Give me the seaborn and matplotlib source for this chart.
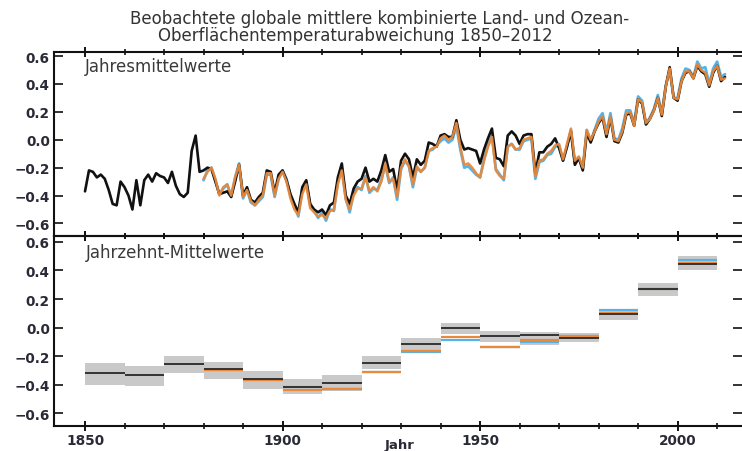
import numpy as np
import pandas as pd
import matplotlib
matplotlib.use("Agg")
import matplotlib.pyplot as plt
import seaborn as sns
from matplotlib.ticker import FuncFormatter, MultipleLocator, FixedLocator

# ---------------- data ----------------
years_black = list(range(1850, 2013))
black_annual = [
    -0.37, -0.22, -0.23, -0.27, -0.25, -0.28, -0.36, -0.46, -0.47, -0.30,   # 1850s
    -0.34, -0.40, -0.50, -0.29, -0.47, -0.29, -0.25, -0.30, -0.24, -0.26,   # 1860s
    -0.27, -0.31, -0.23, -0.33, -0.39, -0.41, -0.38, -0.08, 0.03, -0.23,    # 1870s
    -0.22, -0.20, -0.21, -0.30, -0.39, -0.38, -0.37, -0.41, -0.30, -0.18,   # 1880s
    -0.40, -0.34, -0.43, -0.45, -0.41, -0.38, -0.22, -0.23, -0.38, -0.25,   # 1890s
    -0.22, -0.29, -0.39, -0.46, -0.52, -0.34, -0.29, -0.46, -0.50, -0.52,   # 1900s
    -0.50, -0.54, -0.47, -0.45, -0.27, -0.17, -0.40, -0.46, -0.35, -0.30,   # 1910s
    -0.28, -0.20, -0.30, -0.28, -0.30, -0.22, -0.11, -0.23, -0.21, -0.36,   # 1920s
    -0.15, -0.10, -0.14, -0.27, -0.14, -0.18, -0.15, -0.02, -0.03, -0.05,   # 1930s
    0.03, 0.04, 0.02, 0.02, 0.14, 0.00, -0.07, -0.06, -0.07, -0.08,         # 1940s
    -0.17, -0.07, 0.01, 0.08, -0.13, -0.14, -0.19, 0.03, 0.06, 0.03,        # 1950s
    -0.03, 0.03, 0.04, 0.04, -0.24, -0.09, -0.09, -0.05, -0.03, 0.01,       # 1960s
    -0.06, -0.15, -0.05, 0.06, -0.18, -0.13, -0.22, 0.05, -0.02, 0.06,      # 1970s
    0.12, 0.16, 0.02, 0.16, -0.01, -0.02, 0.05, 0.18, 0.19, 0.10,           # 1980s
    0.29, 0.26, 0.11, 0.15, 0.21, 0.30, 0.17, 0.38, 0.52, 0.30,             # 1990s
    0.28, 0.42, 0.48, 0.49, 0.44, 0.53, 0.49, 0.47, 0.38, 0.48,             # 2000s
    0.53, 0.42, 0.45,                                                       # 2010-2012
]

years_other = list(range(1880, 2013))
orange_annual = [
    -0.28, -0.23, -0.20, -0.28, -0.40, -0.34, -0.32, -0.40, -0.27, -0.18,   # 1880s
    -0.41, -0.36, -0.44, -0.47, -0.43, -0.40, -0.24, -0.24, -0.40, -0.28,   # 1890s
    -0.23, -0.30, -0.42, -0.50, -0.54, -0.39, -0.32, -0.49, -0.52, -0.55,   # 1900s
    -0.54, -0.56, -0.51, -0.50, -0.32, -0.22, -0.43, -0.50, -0.40, -0.35,   # 1910s
    -0.35, -0.27, -0.37, -0.34, -0.37, -0.30, -0.17, -0.30, -0.28, -0.41,   # 1920s
    -0.20, -0.14, -0.19, -0.32, -0.19, -0.23, -0.20, -0.08, -0.06, -0.05,   # 1930s
    0.01, 0.03, 0.00, 0.02, 0.12, -0.05, -0.18, -0.17, -0.20, -0.24,        # 1940s
    -0.27, -0.15, -0.05, 0.02, -0.22, -0.26, -0.28, -0.05, -0.03, -0.07,    # 1950s
    -0.06, 0.00, 0.01, 0.02, -0.26, -0.15, -0.14, -0.10, -0.08, -0.04,      # 1960s
    -0.03, -0.14, -0.03, 0.08, -0.15, -0.12, -0.20, 0.07, 0.00, 0.06,       # 1970s
    0.13, 0.17, 0.04, 0.17, 0.00, -0.01, 0.06, 0.19, 0.20, 0.10,            # 1980s
    0.29, 0.27, 0.12, 0.15, 0.21, 0.30, 0.18, 0.38, 0.51, 0.30,             # 1990s
    0.29, 0.42, 0.49, 0.49, 0.44, 0.54, 0.50, 0.48, 0.39, 0.49,             # 2000s
    0.53, 0.43, 0.44,                                                       # 2010-2012
]
blue_annual = [
    -0.29, -0.22, -0.20, -0.29, -0.39, -0.35, -0.32, -0.41, -0.27, -0.17,   # 1880s
    -0.42, -0.36, -0.45, -0.47, -0.44, -0.41, -0.25, -0.25, -0.41, -0.28,   # 1890s
    -0.22, -0.28, -0.40, -0.47, -0.55, -0.35, -0.30, -0.47, -0.51, -0.56,   # 1900s
    -0.52, -0.58, -0.50, -0.51, -0.30, -0.20, -0.42, -0.52, -0.38, -0.34,   # 1910s
    -0.36, -0.26, -0.38, -0.35, -0.36, -0.29, -0.18, -0.31, -0.27, -0.43,   # 1920s
    -0.21, -0.15, -0.19, -0.34, -0.20, -0.23, -0.20, -0.08, -0.07, -0.04,   # 1930s
    -0.01, 0.01, -0.02, 0.00, 0.10, -0.07, -0.20, -0.19, -0.22, -0.25,      # 1940s
    -0.27, -0.14, -0.04, 0.03, -0.21, -0.25, -0.29, -0.05, -0.03, -0.07,    # 1950s
    -0.07, -0.01, 0.00, 0.01, -0.28, -0.16, -0.15, -0.11, -0.10, -0.05,     # 1960s
    -0.04, -0.15, -0.05, 0.07, -0.17, -0.13, -0.21, 0.07, -0.01, 0.07,      # 1970s
    0.15, 0.19, 0.05, 0.19, 0.01, 0.00, 0.08, 0.21, 0.21, 0.12,             # 1980s
    0.31, 0.28, 0.11, 0.16, 0.22, 0.32, 0.19, 0.39, 0.50, 0.30,             # 1990s
    0.30, 0.44, 0.51, 0.50, 0.45, 0.56, 0.51, 0.52, 0.40, 0.51,             # 2000s
    0.56, 0.45, 0.47,                                                       # 2010-2012
]

decades = [1850, 1860, 1870, 1880, 1890, 1900, 1910, 1920,
           1930, 1940, 1950, 1960, 1970, 1980, 1990, 2000]
black_decadal = [-0.320, -0.335, -0.258, -0.293, -0.363, -0.414, -0.390, -0.246,
                 -0.117, 0.000, -0.059, -0.054, -0.075, 0.093, 0.269, 0.449]
orange_decadal = [np.nan, np.nan, np.nan, -0.298, -0.370, -0.435, -0.433, -0.314,
                  -0.166, -0.066, -0.136, -0.085, -0.059, 0.105, 0.270, 0.453]
blue_decadal = [np.nan, np.nan, np.nan, -0.298, -0.370, -0.418, -0.433, -0.314,
                -0.170, -0.085, -0.136, -0.105, -0.059, 0.121, 0.270, 0.472]
unc_low = [-0.400, -0.410, -0.320, -0.360, -0.430, -0.470, -0.445, -0.290,
           -0.157, -0.045, -0.103, -0.120, -0.105, 0.053, 0.224, 0.405]
unc_high = [-0.250, -0.270, -0.200, -0.245, -0.305, -0.360, -0.330, -0.200,
            -0.077, 0.030, -0.026, -0.035, -0.040, 0.128, 0.313, 0.500]

title_line1 = "Beobachtete globale mittlere kombinierte Land- und Ozean-"
title_line2 = "Oberflächentemperaturabweichung 1850\u20132012"
panel1_label = "Jahresmittelwerte"
panel2_label = "Jahrzehnt-Mittelwerte"
x_label = "Jahr"

# ---------------- style ----------------
sns.set_style("ticks")
plt.rcParams["font.family"] = ["DejaVu Sans"]

C_BLACK = "#111111"
C_ORANGE = "#e8893c"
C_BLUE = "#55b3e8"
C_GREY = "#c9c9c9"
C_TEXT = "#2a2a36"

W, H = 742, 452
fig = plt.figure(figsize=(W / 100, H / 100), dpi=100)
left, right = 54, 742
ax1 = fig.add_axes([left / W, 1 - 237 / H, (right - left) / W, (237 - 53) / H])
ax2 = fig.add_axes([left / W, 1 - 427 / H, (right - left) / W, (427 - 237) / H])

df_black = pd.DataFrame({"Jahr": years_black, "T": black_annual})
df_orange = pd.DataFrame({"Jahr": years_other, "T": orange_annual})
df_blue = pd.DataFrame({"Jahr": years_other, "T": blue_annual})

sns.lineplot(data=df_blue, x="Jahr", y="T", color=C_BLUE, lw=2.0, ax=ax1)
sns.lineplot(data=df_black, x="Jahr", y="T", color=C_BLACK, lw=1.9, ax=ax1)
sns.lineplot(data=df_orange, x="Jahr", y="T", color=C_ORANGE, lw=1.8, alpha=0.95, ax=ax1)

# decadal panel
dec_arr = np.array(decades, dtype=float)
ax2.bar(dec_arr, np.array(unc_high) - np.array(unc_low), bottom=unc_low,
        width=10, align="edge", color=C_GREY, edgecolor="none", zorder=1)
ax2.hlines(blue_decadal, dec_arr, dec_arr + 10, colors=C_BLUE, lw=1.6, zorder=2)
ax2.hlines(orange_decadal, dec_arr, dec_arr + 10, colors=C_ORANGE, lw=1.6, zorder=3)
ax2.hlines(black_decadal, dec_arr, dec_arr + 10, colors="#333333", lw=1.4, zorder=4)

fmt = FuncFormatter(lambda v, p: f"{v:.1f}".replace("-", "\u2212"))
for ax, ylim in ((ax1, (-0.69, 0.629)), (ax2, (-0.691, 0.642))):
    ax.set_xlim(1842.15, 2016.3)
    ax.set_ylim(*ylim)
    ax.xaxis.set_major_locator(FixedLocator([1850, 1900, 1950, 2000]))
    ax.xaxis.set_minor_locator(MultipleLocator(10))
    ax.yaxis.set_major_locator(FixedLocator([-0.6, -0.4, -0.2, 0.0, 0.2, 0.4, 0.6]))
    ax.yaxis.set_major_formatter(fmt)
    ax.tick_params(axis="x", which="major", direction="inout", length=6.5, width=1.4,
                   top=True, bottom=True, color=C_BLACK)
    ax.tick_params(axis="x", which="minor", direction="inout", length=4, width=1.2,
                   top=True, bottom=True, color=C_BLACK)
    ax.tick_params(axis="y", which="major", direction="in", length=6.5, width=1.2,
                   left=True, right=True, color=C_BLACK, pad=3)
    ax.tick_params(axis="y", labelsize=9.8, labelcolor=C_TEXT)
    for lab in ax.get_yticklabels():
        lab.set_fontweight("bold")
    for s in ("left", "top", "bottom"):
        ax.spines[s].set_visible(True)
        ax.spines[s].set_linewidth(1.5)
        ax.spines[s].set_color(C_BLACK)
    ax.spines["right"].set_visible(False)
    ax.set_ylabel("")
    ax.patch.set_alpha(0)

ax1.tick_params(axis="x", labelbottom=False)
ax1.set_xlabel("")
ax2.tick_params(axis="x", labelsize=9.8, labelcolor=C_TEXT, pad=1.5)
for lab in ax2.get_xticklabels():
    lab.set_fontweight("bold")
ax2.set_xlabel(x_label, fontsize=9.5, fontweight="bold", color=C_TEXT)
ax2.xaxis.set_label_coords((400 - left) / (right - left), (427 - 439) / 190)

ax1.text(0.045, 0.924, panel1_label, transform=ax1.transAxes, ha="left", va="center",
         fontsize=12, color="#3a3a3a")
ax2.text(0.046, 0.916, panel2_label, transform=ax2.transAxes, ha="left", va="center",
         fontsize=12, color="#3a3a3a")

fig.text(380 / W, 1 - 19 / H, title_line1, ha="center", va="center",
         fontsize=12, color="#333333")
fig.text(355 / W, 1 - 36 / H, title_line2, ha="center", va="center",
         fontsize=12, color="#333333")

fig.savefig("out.png", dpi=100)
